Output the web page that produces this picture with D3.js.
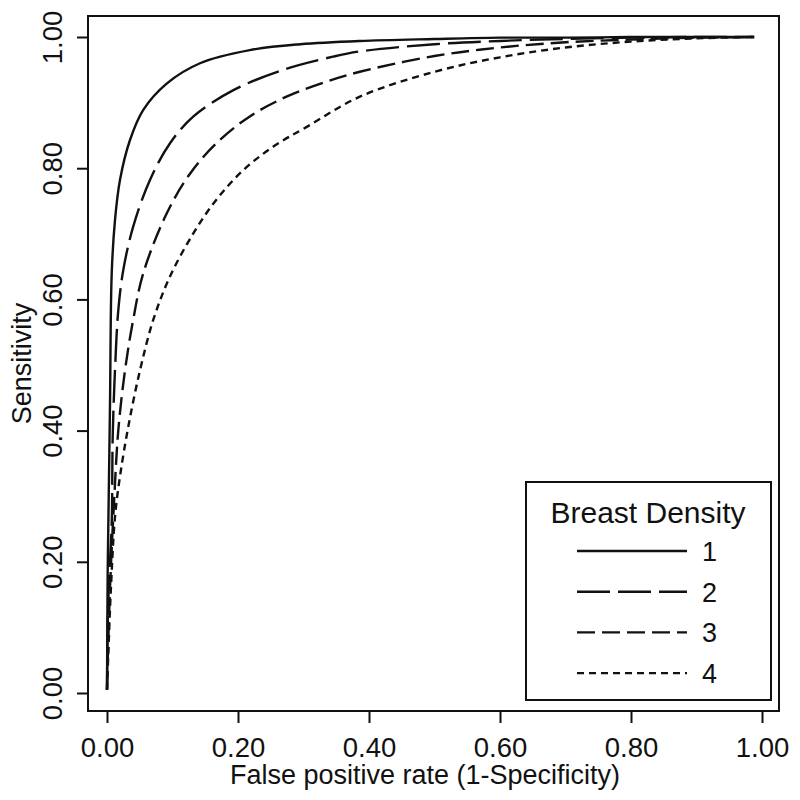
<!DOCTYPE html>
<html>
<head>
<meta charset="utf-8">
<script src="https://cdn.jsdelivr.net/npm/d3@7"></script>
<style>
  body { margin: 0; background: #fff; }
  svg text { font-family: "Liberation Sans", Arial, sans-serif; fill: #111; }
</style>
</head>
<body>
<div id="chart"></div>
<script>
// values
const densities = ["1", "2", "3", "4"];
const tickValues = [0, 0.2, 0.4, 0.6, 0.8, 1.0];

const fpr1 = [0, 0.0005, 0.001, 0.002, 0.0046, 0.0072, 0.0122, 0.0198, 0.0351, 0.0554, 0.0911, 0.142, 0.218, 0.295, 0.386, 0.5, 0.6, 0.7, 0.8, 0.9, 0.988];
const tpr1 = [0.005, 0.10, 0.18, 0.254, 0.442, 0.640, 0.721, 0.782, 0.843, 0.889, 0.929, 0.960, 0.980, 0.989, 0.994, 0.997, 0.999, 0.999, 1.0, 1.0, 1.0];

const fpr2 = [0, 0.001, 0.003, 0.0072, 0.0087, 0.0122, 0.0173, 0.0249, 0.040, 0.0656, 0.0962, 0.132, 0.193, 0.269, 0.345, 0.386, 0.5, 0.6, 0.7, 0.8, 0.9, 0.988];
const tpr2 = [0.005, 0.10, 0.17, 0.259, 0.391, 0.492, 0.584, 0.645, 0.711, 0.782, 0.838, 0.879, 0.919, 0.950, 0.970, 0.978, 0.989, 0.994, 0.997, 0.999, 1.0, 1.0];

const fpr3 = [0, 0.002, 0.005, 0.0107, 0.0173, 0.0275, 0.040, 0.0554, 0.0911, 0.127, 0.167, 0.218, 0.274, 0.335, 0.386, 0.5, 0.6, 0.7, 0.8, 0.9, 0.988];
const tpr3 = [0.005, 0.08, 0.17, 0.290, 0.401, 0.492, 0.569, 0.640, 0.731, 0.792, 0.838, 0.879, 0.909, 0.932, 0.947, 0.971, 0.984, 0.992, 0.996, 0.999, 1.0];

const fpr4 = [0, 0.002, 0.006, 0.0122, 0.0198, 0.0325, 0.0504, 0.0707, 0.0962, 0.132, 0.167, 0.208, 0.254, 0.305, 0.386, 0.5, 0.6, 0.7, 0.8, 0.9, 0.988];
const tpr4 = [0.005, 0.06, 0.16, 0.269, 0.330, 0.406, 0.492, 0.569, 0.635, 0.701, 0.752, 0.797, 0.833, 0.863, 0.909, 0.947, 0.969, 0.984, 0.993, 0.998, 1.0];

const fprs = [fpr1, fpr2, fpr3, fpr4];
const tprs = [tpr1, tpr2, tpr3, tpr4];
const dashes = [null, "33,8", "18,7", "7,5"];

const W = 800, H = 800;
const box = {l: 88, r: 779, t: 16, b: 711};

const svg = d3.select("#chart").append("svg")
    .attr("width", W)
    .attr("height", H);

// data 0..1 -> ticks at 107..762 and 693..37
const x = d3.scaleLinear().domain([0, 1]).range([107, 762]);
const y = d3.scaleLinear().domain([0, 1]).range([693, 37]);

//x axis
const gx = svg.append("g")
    .attr("transform", "translate(0," + box.b + ")")
    .call(d3.axisBottom(x).tickValues(tickValues).tickFormat(d3.format(".2f")).tickSize(12).tickPadding(4).tickSizeOuter(0));
gx.select(".domain").remove();
gx.selectAll(".tick line").attr("stroke", "#111").attr("stroke-width", 2);
gx.selectAll(".tick text")
    .attr("font-size", 27.5)
    .attr("dy", null)
    .attr("y", 46);

//y axis, labels turned like R's las=0
const gy = svg.append("g")
    .attr("transform", "translate(" + box.l + ",0)")
    .call(d3.axisLeft(y).tickValues(tickValues).tickFormat(d3.format(".2f")).tickSize(11).tickSizeOuter(0));
gy.select(".domain").remove();
gy.selectAll(".tick line").attr("stroke", "#111").attr("stroke-width", 2);
gy.selectAll(".tick text")
    .attr("font-size", 27.5)
    .attr("x", null)
    .attr("dy", null)
    .attr("text-anchor", "middle")
    .attr("transform", "translate(-26,0) rotate(-90)");

svg.append("rect")
    .attr("x", box.l).attr("y", box.t)
    .attr("width", box.r - box.l).attr("height", box.b - box.t)
    .attr("fill", "none").attr("stroke", "#111").attr("stroke-width", 2);

const line = d3.line()
    .x(d => x(d[0]))
    .y(d => y(d[1]))
    .curve(d3.curveCatmullRom.alpha(0.5));

densities.forEach((name, i) => {
    const pts = fprs[i].map((f, j) => [f, tprs[i][j]]);
    svg.append("path")
        .datum(pts)
        .attr("d", line)
        .attr("fill", "none")
        .attr("stroke", "#111")
        .attr("stroke-width", 2.4)
        .attr("stroke-dasharray", dashes[i]);
});

// axis titles
svg.append("text")
    .attr("x", 425)
    .attr("y", 784)
    .attr("text-anchor", "middle")
    .attr("font-size", 27)
    .text("False positive rate (1-Specificity)");

svg.append("text")
    .attr("transform", "translate(31," + ((box.t + box.b) / 2) + ") rotate(-90)")
    .attr("text-anchor", "middle")
    .attr("font-size", 27)
    .text("Sensitivity");

// legend
const lg = svg.append("g");
lg.append("rect")
    .attr("x", 526).attr("y", 482)
    .attr("width", 245).attr("height", 218)
    .attr("fill", "#fff").attr("stroke", "#111").attr("stroke-width", 2);
lg.append("text")
    .attr("x", 648).attr("y", 523)
    .attr("text-anchor", "middle")
    .attr("font-size", 30)
    .text("Breast Density");
densities.forEach((name, i) => {
    const ly = 551 + i * 40.7;
    lg.append("line")
        .attr("x1", 577).attr("x2", 687)
        .attr("y1", ly).attr("y2", ly)
        .attr("stroke", "#111")
        .attr("stroke-width", 2.4)
        .attr("stroke-dasharray", dashes[i]);
    lg.append("text")
        .attr("x", 702).attr("y", ly + 10)
        .attr("font-size", 27)
        .text(name);
});
</script>
</body>
</html>
